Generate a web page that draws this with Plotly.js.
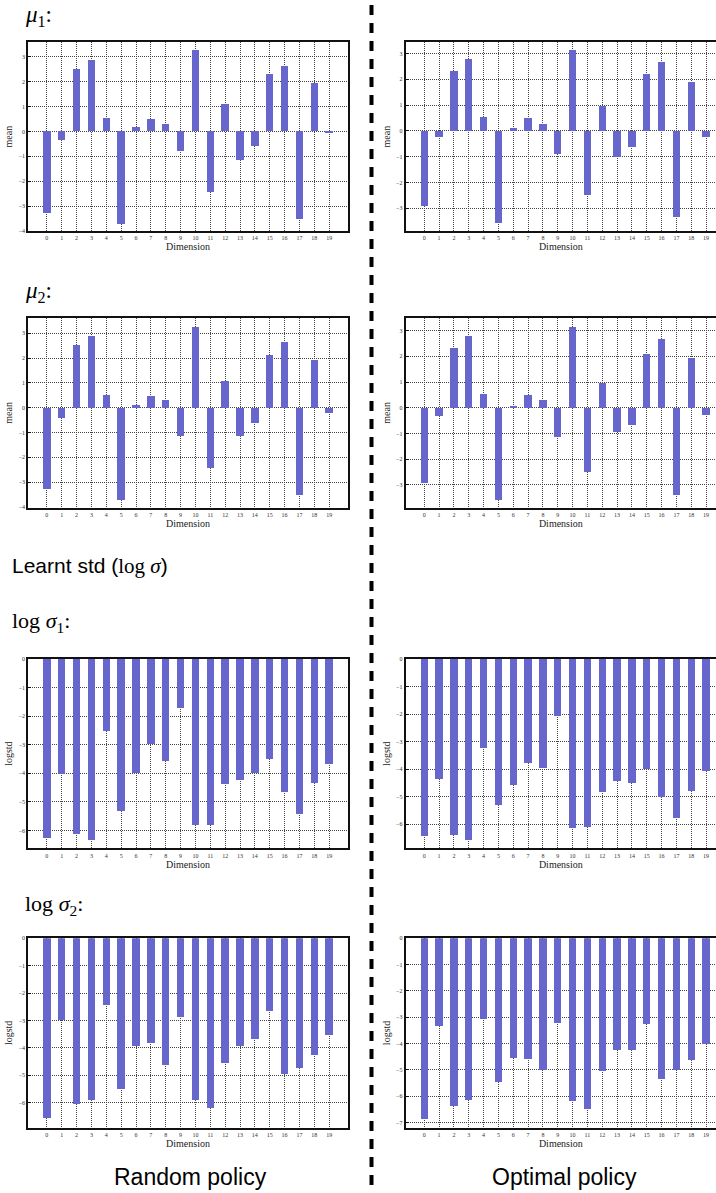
<!DOCTYPE html>
<html><head><meta charset="utf-8">
<script src="https://cdn.plot.ly/plotly-3.0.1.min.js"></script>
<style>html,body{margin:0;padding:0;background:#fff;overflow:hidden}</style>
</head><body><div id="chart" style="width:716px;height:1193px"></div>
<script>
// ---- data ----
const dims = [0,1,2,3,4,5,6,7,8,9,10,11,12,13,14,15,16,17,18,19];
const dimLabels = ["0","1","2","3","4","5","6","7","8","9","10","11","12","13","14","15","16","17","18","19"];
const mu1Random  = [-3.26,-0.36,2.50,2.87,0.54,-3.70,0.16,0.50,0.28,-0.79,3.27,-2.45,1.09,-1.16,-0.59,2.30,2.62,-3.50,1.94,-0.08];
const mu1Optimal = [-2.93,-0.22,2.32,2.78,0.54,-3.58,0.12,0.50,0.27,-0.91,3.13,-2.50,0.97,-1.03,-0.64,2.20,2.66,-3.35,1.89,-0.22];
const mu2Random  = [-3.27,-0.40,2.53,2.89,0.51,-3.71,0.11,0.47,0.31,-1.13,3.26,-2.42,1.08,-1.13,-0.61,2.13,2.65,-3.51,1.92,-0.20];
const mu2Optimal = [-2.92,-0.31,2.32,2.79,0.53,-3.58,0.06,0.49,0.30,-1.14,3.14,-2.49,0.96,-0.94,-0.66,2.09,2.68,-3.39,1.94,-0.27];
const logstd1Random  = [-6.25,-4.01,-6.11,-6.32,-2.51,-5.30,-3.97,-2.96,-3.55,-1.70,-5.79,-5.79,-4.36,-4.22,-3.97,-3.48,-4.64,-5.41,-4.32,-3.66];
const logstd1Optimal = [-6.42,-4.35,-6.39,-6.57,-3.22,-5.30,-4.57,-3.77,-3.95,-2.06,-6.13,-6.10,-4.82,-4.42,-4.50,-3.99,-5.01,-5.77,-4.79,-4.06];
const logstd2Random  = [-6.58,-3.00,-6.07,-5.92,-2.42,-5.49,-3.95,-3.84,-4.61,-2.86,-5.89,-6.18,-4.54,-3.95,-3.66,-2.64,-4.94,-4.72,-4.28,-3.55];
const logstd2Optimal = [-6.86,-3.32,-6.36,-6.13,-3.05,-5.45,-4.54,-4.58,-4.99,-3.21,-6.17,-6.48,-5.03,-4.23,-4.23,-3.24,-5.34,-4.99,-4.61,-4.01];

// ---- layout config ----
const W = 716, H = 1193;
const colX = [[28.3, 347.7], [405.7, 716]];
const colXRange = [[-1.25, 20.25], [-1.25, 19.67]];
const rowY = [[42.3, 231], [318.3, 507.5], [659, 848.3], [938.3, 1127.5]];
const panels = [
  {y: mu1Random, row: 0, col: 0, yr: [-4.0, 3.58], yt: 'mean'},
  {y: mu1Optimal, row: 0, col: 1, yr: [-3.88, 3.43], yt: 'mean'},
  {y: mu2Random, row: 1, col: 0, yr: [-4.02, 3.6], yt: 'mean'},
  {y: mu2Optimal, row: 1, col: 1, yr: [-3.88, 3.48], yt: 'mean'},
  {y: logstd1Random, row: 2, col: 0, yr: [-6.62, 0], yt: 'logstd'},
  {y: logstd1Optimal, row: 2, col: 1, yr: [-6.88, 0], yt: 'logstd'},
  {y: logstd2Random, row: 3, col: 0, yr: [-6.91, 0], yt: 'logstd'},
  {y: logstd2Optimal, row: 3, col: 1, yr: [-7.19, 0], yt: 'logstd'}
];

const barColor = '#6666cc';
const gridColor = '#444';
const frameColor = '#111';
const serif = 'Liberation Serif, Times New Roman, serif';
const sans = 'Liberation Sans, Arial, Helvetica, sans-serif';

const traces = [];
const layout = {
  width: W, height: H,
  margin: {l: 0, r: 0, t: 0, b: 0},
  paper_bgcolor: '#fff', plot_bgcolor: '#fff',
  showlegend: false,
  bargap: 0,
  annotations: [], shapes: []
};

panels.forEach((p, i) => {
  const n = i === 0 ? '' : String(i + 1);
  traces.push({
    type: 'bar', x: dims, y: p.y, width: 0.5,
    xaxis: 'x' + n, yaxis: 'y' + n,
    marker: {color: barColor, line: {width: 0}},
    hoverinfo: 'x+y'
  });
  const cx = colX[p.col], ry = rowY[p.row];
  layout['xaxis' + n] = {
    domain: [cx[0] / W, cx[1] / W],
    range: colXRange[p.col],
    anchor: 'y' + n,
    tickmode: 'array', tickvals: dims, ticktext: dimLabels,
    showgrid: true, gridcolor: gridColor, griddash: '1px,1px', gridwidth: 1,
    zeroline: false,
    showline: true, linecolor: frameColor, linewidth: 2, mirror: true,
    ticks: '',
    tickfont: {family: serif, size: 6, color: '#333'},
    title: {text: 'Dimension', font: {family: serif, size: 10, color: '#222'}, standoff: 2},
    fixedrange: true
  };
  layout['yaxis' + n] = {
    domain: [1 - ry[1] / H, 1 - ry[0] / H],
    range: p.yr,
    anchor: 'x' + n,
    tick0: 0, dtick: 1,
    showgrid: true, gridcolor: gridColor, griddash: '1px,1px', gridwidth: 1,
    zeroline: false,
    showline: true, linecolor: frameColor, linewidth: 2, mirror: p.col === 0,
    ticks: 'inside', ticklen: 3, tickcolor: frameColor,
    tickfont: {family: serif, size: 6, color: '#333'},
    title: {text: p.yt, font: {family: serif, size: 10, color: '#222'}, standoff: 4},
    fixedrange: true
  };
});

function ann(text, x, y, size, family, xanchor) {
  layout.annotations.push({
    xref: 'paper', yref: 'paper', x: x / W, y: 1 - y / H,
    text: text, showarrow: false, xanchor: xanchor || 'left', yanchor: 'middle',
    font: {family: family, size: size, color: '#000'}
  });
}
ann('<i>μ</i><sub>1</sub>:', 23, 16, 23, serif);
ann('<i>μ</i><sub>2</sub>:', 23, 292, 23, serif);
ann('Learnt std (<span style="font-family:Liberation Serif">log <i>σ</i></span>)', 10, 566, 21, sans);
ann('log <i>σ</i><sub>1</sub>:', 10, 622, 22, serif);
ann('log <i>σ</i><sub>2</sub>:', 23, 905, 22, serif);
ann('Random policy', 190, 1177, 23, sans, 'center');
ann('Optimal policy', 564, 1177, 23, sans, 'center');

layout.shapes.push({
  type: 'line', xref: 'paper', yref: 'paper',
  x0: 371.5 / W, x1: 371.5 / W, y0: 1 - 5 / H, y1: 0,
  line: {color: '#000', width: 4, dash: '10px,8px'}
});

Plotly.newPlot('chart', traces, layout, {staticPlot: true, displayModeBar: false});
</script>
</body></html>
